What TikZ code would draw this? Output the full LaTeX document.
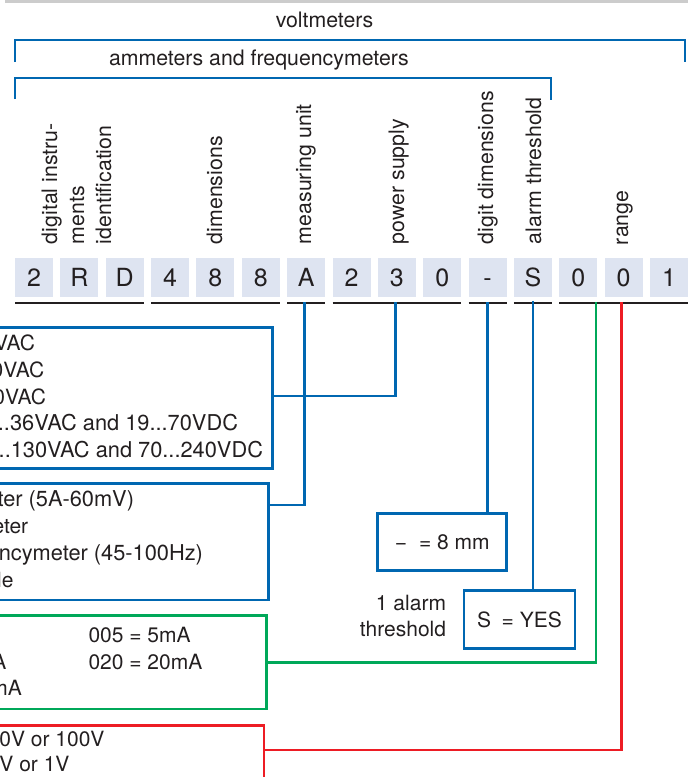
\documentclass[tikz,border=0pt]{standalone}
\usepackage{fontspec}
\setmainfont{TeX Gyre Heros}
\definecolor{cblue}{RGB}{0,103,177}
\definecolor{cgreen}{RGB}{0,168,89}
\definecolor{cred}{RGB}{237,28,36}
\definecolor{ink}{RGB}{35,31,32}
\definecolor{boxfill}{RGB}{222,228,241}
\definecolor{topgray}{RGB}{204,204,204}
\begin{document}
\begin{tikzpicture}[x=1pt,y=-1pt,
  every node/.style={inner sep=0pt, outer sep=0pt, text=ink},
  lbl/.style={font=\fontsize{21.3}{25}\selectfont},
  rlbl/.style={font=\fontsize{21.3}{25}\selectfont, rotate=90, anchor=base west},
  body/.style={font=\fontsize{21}{26}\selectfont},
  bodyw/.style={font=\fontsize{21.8}{26}\selectfont},
  digit/.style={fill=boxfill, minimum width=38pt, minimum height=39pt, anchor=north west,
    text height=17.7pt, text depth=0pt, font=\fontsize{25}{30}\selectfont},
  uline/.style={line width=2.6pt, draw=ink},
  bl/.style={line width=2.6pt, draw=cblue},
  gl/.style={line width=2.6pt, draw=cgreen},
  rl/.style={line width=2.6pt, draw=cred},
  panel/.style={draw=#1, line width=2.7pt, fill=none},
]
\useasboundingbox (0,0) rectangle (688,777);
\clip (0,0) rectangle (688,777);

% top gray rule
\fill[topgray] (5,0) rectangle (688,2.6);

% headings and brackets
\node[lbl, anchor=base] (volt) at (324.5,27) {voltmeters};
\draw[bl] (15,62) -- (15,40) -- (685,40) -- (685,62);
\node[lbl, anchor=base west] (amm) at (109,65) {ammeters and frequencymeters};
\draw[bl] (15,99) -- (15,78) -- (551,78) -- (551,100);

% rotated field labels
\node[rlbl] (l1a) at (57,244) {digital instru-};
\node[rlbl] (l1b) at (84,244) {ments};
\node[rlbl] (l1c) at (111,244) {identification};
\node[rlbl] (l2) at (222,244) {dimensions};
\node[rlbl] (l3) at (311,244) {measuring unit};
\node[rlbl] (l4) at (404,244) {power supply};
\node[rlbl] (l5) at (493,244) {digit dimensions};
\node[rlbl] (l6) at (541,244) {alarm threshold};
\node[rlbl] (l7) at (628,245) {range};

% code boxes
\foreach \c [count=\i from 0] in {2,R,D,4,8,8,A,2,3,0,-,S,0,0,1}
  \node[digit] (d\i) at ({15+45.36*\i},258) {\c};

% group underlines
\draw[uline] ([yshift=-6pt]d0.south west) -- ([yshift=-6pt]d2.south east);
\draw[uline] ([yshift=-6pt]d3.south west) -- ([yshift=-6pt]d5.south east);
\draw[uline] ([yshift=-6pt]d6.south west) -- ([yshift=-6pt]d6.south east);
\draw[uline] ([yshift=-6pt]d7.south west) -- ([yshift=-6pt]d9.south east);
\draw[uline] ([yshift=-6pt]d10.south west) -- ([yshift=-6pt]d10.south east);
\draw[uline] ([yshift=-6pt]d11.south west) -- ([yshift=-6pt]d11.south east);
\draw[uline] ([yshift=-6pt]d12.south west) -- ([yshift=-6pt,xshift=10pt]d14.south east);

% panels
\node[panel=cblue, minimum width=372.3pt, minimum height=141pt, anchor=north east] (pwr) at (272.3,327.3) {};
\node[panel=cblue, minimum width=368.3pt, minimum height=116.7pt, anchor=north east] (meas) at (268.3,483.3) {};
\node[panel=cgreen, minimum width=366.7pt, minimum height=93.3pt, anchor=north east] (grn) at (266.7,615.7) {};
\node[panel=cred, minimum width=364pt, minimum height=120pt, anchor=north east] (red) at (264,725.5) {};
\node[panel=cblue, minimum width=129pt, minimum height=57.4pt, anchor=north west, body] (dig) at (377.7,513.3) {−\hspace{12pt}= 8 mm};
\node[panel=cblue, minimum width=111pt, minimum height=58pt, anchor=north west, body] (yes) at (464,590.7) {S\hspace{10.5pt}= YES};

% power supply texts
\node[body, anchor=base east] (p1) at (35,350.7) {VAC};
\node[body, anchor=base east] (p2) at (44.3,377.5) {0VAC};
\node[body, anchor=base east] (p3) at (46,404) {0VAC};
\node[bodyw, anchor=base east] (p4) at (238,430.7) {...36VAC and 19...70VDC};
\node[bodyw, anchor=base east] (p5) at (263,457) {...130VAC and 70...240VDC};

% measuring unit texts
\node[bodyw, anchor=base east] (m1) at (134,506.7) {ter (5A-60mV)};
\node[body, anchor=base east] (m2) at (28.2,533.3) {eter};
\node[bodyw, anchor=base east] (m3) at (203,560.7) {ncymeter (45-100Hz)};
\node[body, anchor=base east] (m4) at (13.5,587.3) {le};

% current range texts
\node[body, anchor=base west] (g1) at (88.5,642.7) {005 = 5mA};
\node[body, anchor=base west] (g2) at (88.5,669.3) {020 = 20mA};
\node[body, anchor=base east] (g3) at (6.3,669.3) {A};
\node[body, anchor=base east] (g4) at (22,695) {mA};

% voltage range texts
\node[body, anchor=base east] (r1) at (104.5,746.7) {0V or 100V};
\node[body, anchor=base east] (r2) at (69.5,771.7) {V or 1V};

% alarm note
\node[body, anchor=base east] (n1) at (446,610) {1 alarm};
\node[body, anchor=base east] (n2) at (446,636) {threshold};

% connectors
\coordinate (tA) at (304.3,302);
\coordinate (tP) at (395.7,302);
\coordinate (tD) at (487.7,302);
\coordinate (tS) at (533,301);
\coordinate (tG) at (596,302);
\coordinate (tR) at (621.7,302);
\draw[bl] (tA) |- ([yshift=-21.7pt]meas.north east);
\draw[bl] (tP) |- ([yshift=-68.7pt]pwr.north east);
\draw[bl] (tD) -- (tD |- dig.north);
\draw[bl] (tS) -- (tS |- yes.north);
\draw[gl] (tG) |- (grn.east);
\draw[rl] (tR) |- ([yshift=-24.5pt]red.north east);
\end{tikzpicture}
\end{document}
